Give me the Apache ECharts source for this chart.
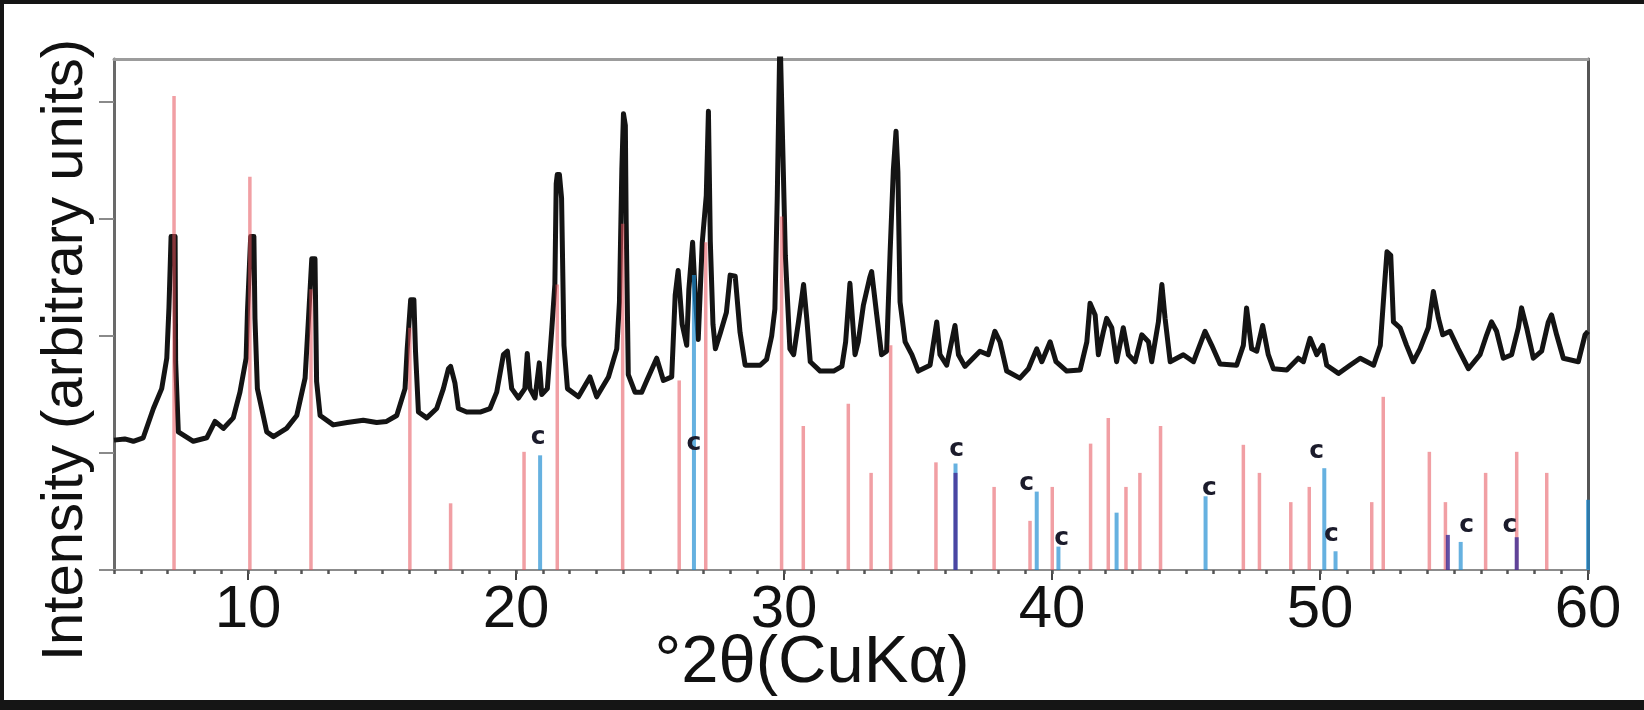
<!DOCTYPE html>
<html>
<head>
<meta charset="utf-8">
<script src="https://cdn.jsdelivr.net/npm/echarts@6/dist/echarts.min.js"></script>
<style>
  html, body { margin: 0; padding: 0; background: #fff; }
  #xrd { width: 1644px; height: 710px; }
</style>
</head>
<body>
<div id="xrd"></div>
<script>
  // measured pattern (2theta, intensity in arbitrary units)
  const traceX = [5.00, 5.40, 5.72, 6.09, 6.47, 6.78, 6.97, 7.05, 7.13, 7.28, 7.30, 7.36, 7.40, 7.96, 8.46, 8.77, 9.08, 9.45, 9.70, 9.93,
    9.98, 10.10, 10.22, 10.26, 10.35, 10.70, 10.95, 11.44, 11.82, 12.13, 12.25, 12.38, 12.50, 12.56, 12.69, 13.18, 13.70, 14.30, 14.80, 15.17,
    15.55, 15.86, 15.94, 16.07, 16.19, 16.25, 16.36, 16.67, 17.04, 17.29, 17.48, 17.56, 17.72, 17.85, 18.16, 18.66, 19.03, 19.28, 19.53, 19.68,
    19.84, 20.09, 20.33, 20.42, 20.52, 20.71, 20.87, 20.96, 21.17, 21.33, 21.45, 21.50, 21.54, 21.62, 21.70, 21.79, 21.92, 22.33, 22.76, 23.01,
    23.45, 23.76, 23.86, 23.95, 24.01, 24.08, 24.11, 24.19, 24.44, 24.69, 24.88, 25.25, 25.50, 25.81, 25.94, 26.05, 26.12, 26.20, 26.37, 26.45,
    26.59, 26.70, 26.80, 26.95, 27.10, 27.18, 27.25, 27.35, 27.44, 27.63, 27.85, 27.99, 28.18, 28.36, 28.55, 29.11, 29.35, 29.54, 29.66, 29.75,
    29.85, 30.05, 30.22, 30.36, 30.54, 30.73, 30.85, 30.98, 31.35, 31.85, 32.16, 32.30, 32.46, 32.65, 32.77, 32.96, 33.20, 33.27, 33.46, 33.64,
    33.83, 33.96, 34.08, 34.18, 34.25, 34.33, 34.52, 34.77, 35.01, 35.45, 35.70, 35.82, 36.07, 36.38, 36.51, 36.75, 37.31, 37.62, 37.87, 38.06,
    38.31, 38.80, 39.12, 39.43, 39.62, 39.93, 40.15, 40.55, 41.05, 41.30, 41.42, 41.61, 41.73, 41.92, 42.04, 42.23, 42.41, 42.66, 42.85, 43.10,
    43.35, 43.60, 43.72, 43.97, 44.10, 44.22, 44.41, 44.90, 45.28, 45.71, 45.96, 46.27, 46.89, 47.14, 47.26, 47.45, 47.64, 47.86, 48.07, 48.26,
    48.76, 49.19, 49.38, 49.63, 49.88, 50.10, 50.25, 50.69, 51.12, 51.50, 52.00, 52.25, 52.40, 52.50, 52.64, 52.74, 52.99, 53.23, 53.48, 53.73,
    54.04, 54.23, 54.42, 54.58, 54.85, 55.16, 55.54, 55.97, 56.22, 56.40, 56.59, 56.84, 57.15, 57.40, 57.52, 57.71, 57.96, 58.27, 58.52, 58.64,
    58.83, 59.08, 59.64, 59.89, 60.00];
  const traceY = [1.11, 1.12, 1.10, 1.13, 1.38, 1.55, 1.81, 2.24, 2.85, 2.85, 1.78, 1.78, 1.18, 1.10, 1.13, 1.27, 1.21, 1.30, 1.52, 1.81,
    2.21, 2.85, 2.85, 2.15, 1.55, 1.18, 1.14, 1.21, 1.32, 1.64, 2.12, 2.66, 2.66, 1.61, 1.32, 1.24, 1.26, 1.28, 1.26, 1.27,
    1.32, 1.55, 1.89, 2.31, 2.31, 1.87, 1.35, 1.30, 1.38, 1.55, 1.72, 1.74, 1.60, 1.38, 1.35, 1.35, 1.38, 1.52, 1.84, 1.87,
    1.55, 1.47, 1.55, 1.85, 1.55, 1.47, 1.77, 1.50, 1.55, 2.04, 2.44, 3.30, 3.38, 3.38, 3.18, 1.92, 1.55, 1.48, 1.65, 1.48,
    1.65, 1.89, 2.29, 3.43, 3.90, 3.80, 2.98, 1.67, 1.52, 1.52, 1.62, 1.81, 1.62, 1.65, 2.35, 2.56, 2.56, 2.10, 1.92, 2.40,
    2.80, 2.30, 1.97, 2.80, 3.20, 3.92, 2.81, 2.10, 1.89, 2.03, 2.20, 2.52, 2.51, 2.03, 1.75, 1.75, 1.80, 2.00, 2.23, 3.20,
    4.60, 2.69, 1.89, 1.84, 2.12, 2.44, 2.15, 1.78, 1.70, 1.70, 1.74, 1.95, 2.45, 1.84, 1.95, 2.26, 2.50, 2.55, 2.18, 1.84,
    1.87, 2.72, 3.42, 3.75, 3.40, 2.29, 1.95, 1.84, 1.70, 1.75, 2.12, 1.84, 1.75, 2.09, 1.84, 1.74, 1.87, 1.84, 2.04, 1.95,
    1.70, 1.64, 1.72, 1.89, 1.78, 1.95, 1.78, 1.70, 1.71, 1.95, 2.28, 2.18, 1.84, 2.04, 2.15, 2.07, 1.78, 2.07, 1.84, 1.78,
    2.01, 1.95, 1.78, 2.12, 2.44, 2.15, 1.78, 1.84, 1.78, 2.04, 1.92, 1.76, 1.75, 1.92, 2.24, 1.89, 1.87, 2.09, 1.84, 1.72,
    1.71, 1.81, 1.78, 1.98, 1.84, 1.92, 1.75, 1.68, 1.75, 1.81, 1.75, 1.92, 2.41, 2.72, 2.69, 2.12, 2.07, 1.92, 1.78, 1.89,
    2.07, 2.38, 2.15, 2.01, 2.04, 1.89, 1.72, 1.84, 2.01, 2.12, 2.04, 1.81, 1.84, 2.07, 2.24, 2.07, 1.81, 1.87, 2.12, 2.18,
    2.01, 1.81, 1.78, 2.01, 2.04];

  // reference patterns (stick positions and heights)
  const redStickX = [7.24, 10.07, 12.35, 16.04, 17.56, 20.30, 21.54, 23.98, 26.09, 27.08, 29.91, 30.72, 32.40, 33.25, 33.98, 35.67, 37.84,
    39.18, 40.01, 41.44, 42.10, 42.76, 43.28, 44.05, 47.14, 47.74, 48.91, 49.60, 51.93, 52.36, 54.08, 54.68, 56.18, 57.34, 58.46];
  const redStickY = [4.05, 3.36, 2.40, 2.07, 0.57, 1.01, 2.44, 2.96, 1.62, 2.80, 3.02, 1.23, 1.42, 0.83, 1.92, 0.92, 0.71,
    0.42, 0.71, 1.08, 1.30, 0.71, 0.83, 1.23, 1.07, 0.83, 0.58, 0.71, 0.58, 1.48, 1.01, 0.58, 0.83, 1.01, 0.83];
  const blueStickX = [20.90, 26.64, 36.40, 39.43, 40.24, 42.41, 45.73, 50.16, 50.58, 55.25, 60.00];
  const blueStickY = [0.98, 2.52, 0.91, 0.67, 0.20, 0.49, 0.63, 0.87, 0.16, 0.24, 0.60];
  const violetStickX = [36.40, 54.77, 57.34];
  const violetStickY = [0.83, 0.30, 0.28];

  // "c" markers
  const markX = [20.83, 26.64, 36.44, 39.05, 40.36, 45.87, 49.88, 50.43, 55.47, 57.09];
  const markY = [1.13, 1.08, 1.03, 0.74, 0.27, 0.70, 1.01, 0.30, 0.38, 0.38];

  const xTicks = [10, 20, 30, 40, 50, 60];
  const yTicks = [0, 1, 2, 3, 4];

  const pairs = (xs, ys) => xs.map((x, i) => [x, ys[i]]);

  function stickSeries(name, xs, ys, color, width) {
    return {
      name: name,
      type: 'custom',
      z: 3,
      data: pairs(xs, ys),
      renderItem: function (params, api) {
        const p0 = api.coord([api.value(0), 0]);
        const p1 = api.coord([api.value(0), api.value(1)]);
        return {
          type: 'line',
          shape: {x1: p0[0], y1: p0[1], x2: p1[0], y2: p1[1]},
          style: {stroke: color, lineWidth: width}
        };
      }
    };
  }

  const chart = echarts.init(document.getElementById('xrd'));
  const font = '"Liberation Sans", Arial, sans-serif';
  const yMax = 4.367;

  chart.setOption({
    animation: false,
    backgroundColor: '#fff',
    grid: {left: 114, right: 56, top: 59, bottom: 140},
    xAxis: [
      {
        type: 'value', min: 5, max: 60, position: 'bottom',
        axisLine: {onZero: false, lineStyle: {color: '#8c8c8c', width: 2}},
        axisTick: {customValues: xTicks, length: 10, lineStyle: {color: '#444', width: 2}},
        axisLabel: {customValues: xTicks, fontSize: 60, color: '#111', margin: 10, fontFamily: font},
        splitLine: {show: false}
      },
      {
        type: 'value', min: 5, max: 60, interval: 1, position: 'bottom',
        axisLine: {show: true, onZero: false, lineStyle: {color: 'rgba(0,0,0,0)', width: 0}},
        axisTick: {show: true, length: 4, lineStyle: {color: '#555', width: 2.5}},
        axisLabel: {show: false},
        splitLine: {show: false}
      },
      {
        type: 'value', min: 5, max: 60, position: 'top',
        axisLine: {onZero: false, lineStyle: {color: '#9c9c9c', width: 3}},
        axisTick: {show: false},
        axisLabel: {show: false},
        splitLine: {show: false}
      }
    ],
    yAxis: [
      {
        type: 'value', min: 0, max: yMax, interval: 1, position: 'left',
        axisLine: {show: true, onZero: false, lineStyle: {color: '#6a6a6a', width: 3}},
        axisTick: {show: true, customValues: yTicks, length: 15, lineStyle: {color: '#8a8a8a', width: 2}},
        axisLabel: {show: false},
        splitLine: {show: false}
      },
      {
        type: 'value', min: 0, max: yMax, position: 'right',
        axisLine: {show: true, onZero: false, lineStyle: {color: '#555', width: 3}},
        axisTick: {show: false},
        axisLabel: {show: false},
        splitLine: {show: false}
      }
    ],
    series: [
      {
        name: 'sample',
        type: 'line',
        z: 2,
        data: pairs(traceX, traceY),
        showSymbol: false,
        symbol: 'none',
        lineStyle: {color: '#141414', width: 5, join: 'round'}
      },
      stickSeries('red', redStickX, redStickY, 'rgba(230,80,90,0.55)', 3.5),
      stickSeries('blue', blueStickX, blueStickY, 'rgba(30,140,210,0.68)', 4),
      stickSeries('violet', violetStickX, violetStickY, 'rgba(70,50,150,0.85)', 4),
      {
        name: 'c',
        type: 'custom',
        z: 4,
        data: pairs(markX, markY),
        renderItem: function (params, api) {
          const p = api.coord([api.value(0), api.value(1)]);
          return {
            type: 'text',
            x: p[0], y: p[1],
            style: {
              text: 'c', fill: '#1b1b2b', align: 'center', verticalAlign: 'middle',
              font: 'bold 25px "DejaVu Sans", sans-serif'
            }
          };
        }
      }
    ],
    graphic: [
      {type: 'rect', shape: {x: 0, y: 0, width: 1644, height: 4}, style: {fill: '#151515'}},
      {type: 'rect', shape: {x: 0, y: 0, width: 4, height: 710}, style: {fill: '#151515'}},
      {type: 'rect', shape: {x: 0, y: 700, width: 1644, height: 10}, style: {fill: '#151515'}},
      {
        type: 'text', x: 66, y: 350, rotation: Math.PI / 2,
        style: {
          text: 'Intensity (arbitrary units)', fill: '#111', font: '58px ' + font,
          align: 'center', verticalAlign: 'middle'
        }
      },
      {
        type: 'text', x: 812, y: 664,
        style: {
          text: '°2θ(CuKα)', fill: '#111', font: '67px ' + font,
          align: 'center', verticalAlign: 'middle'
        }
      }
    ]
  });
</script>
</body>
</html>
